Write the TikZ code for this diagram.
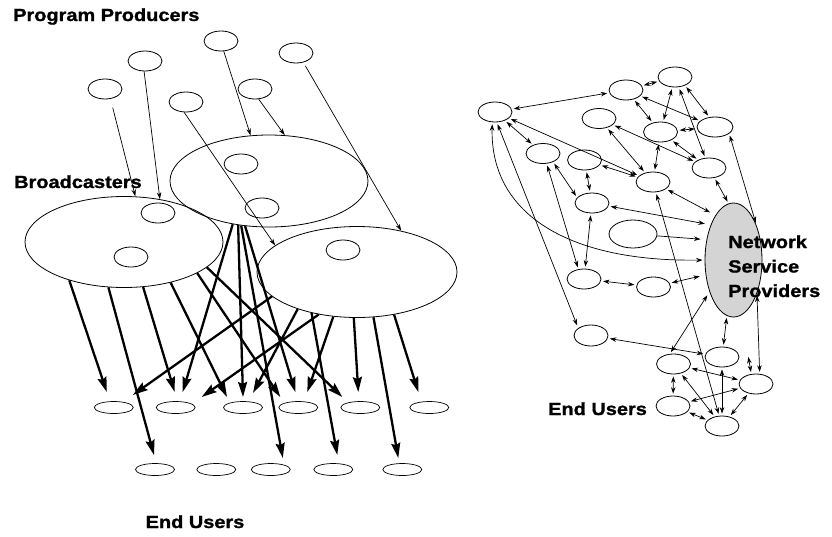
\documentclass[tikz,border=0pt]{standalone}
\usepackage{fontspec}
\newfontfamily\labfont[FakeStretch=1.14,FakeBold=1.2]{Liberation Sans}
\usetikzlibrary{shapes.geometric,arrows.meta,calc}
\begin{document}
\begin{tikzpicture}[x=1pt,y=-1pt,
  lab/.style={font=\labfont\bfseries\fontsize{17.5}{20}\selectfont, inner sep=0pt},
  sm/.style={draw, ellipse, line width=0.8pt, minimum width=34pt, minimum height=20pt, inner sep=0pt},
  bigell/.style={draw, ellipse, line width=0.8pt, minimum width=198pt, minimum height=91pt, inner sep=0pt},
  eu/.style={draw, ellipse, line width=0.7pt, minimum width=39pt, minimum height=12pt, inner sep=0pt},
  parr/.style={line width=0.7pt, -{Stealth[length=7pt,width=4.5pt]}},
  fat/.style={line width=2.3pt, -{Stealth[length=15pt,width=9pt,inset=2pt]}},
  link/.style={line width=0.7pt, {Stealth[length=6.5pt,width=4.5pt]}-{Stealth[length=6.5pt,width=4.5pt]}, shorten <=2pt, shorten >=2pt},
  one/.style={line width=0.7pt, -{Stealth[length=6.5pt,width=4.5pt]}, shorten >=2pt},
]
\fill[white] (0,0) rectangle (832,536);
\useasboundingbox (0,0) rectangle (832,536);

% ---------------- left diagram ----------------
\node[lab, anchor=base west] (tpp) at (13,21) {Program Producers};
\node[lab, anchor=base west] (tbc) at (14,188) {Broadcasters};
\node[lab, anchor=base] (teu1) at (195,528) {End Users};

\node[sm] (P1) at (221,41) {};
\node[sm] (P2) at (145,61) {};
\node[sm] (P3) at (296,53) {};
\node[sm] (P4) at (105,89) {};
\node[sm] (P5) at (186,102) {};
\node[sm] (P6) at (255,89) {};

\node[bigell, minimum height=92pt] (B1) at (269,181) {};
\node[bigell] (B2) at (124,242) {};
\node[bigell, minimum width=200pt] (B3) at (357,272) {};

\node[sm] (I1) at (241,164) {};
\node[sm] (I2) at (262,208) {};
\node[sm] (I3) at (158,213) {};
\node[sm] (I4) at (131,257) {};
\node[sm] (I5) at (343,250) {};

\foreach \n/\x in {U1/113.8,U2/175.7,U3/243,U4/298.3,U5/360.3,U6/429.3}
  \node[eu] (\n) at (\x,407.5) {};
\foreach \n/\x in {V1/155,V2/216.3,V3/270.8,V4/333.3,V5/402.3}
  \node[eu] (\n) at (\x,469.5) {};

% producers to broadcasters
\draw[parr, shorten <=9pt] (P4.299) -- (B2.76);
\draw[parr] (P2.265) -- (B2.50);
\draw[parr] (P1.285) -- (B1.112);
\draw[parr] (P6.290) -- (B1.71);
\draw[parr] (P5.260) -- (B3.162);
\draw[parr, shorten <=4pt] (P3.308) -- (B3.43);

% broadcasters to end users
\draw[fat] (B2.215) -- ($(U1)+(-7,-15.5)$);
\draw[fat] (B2.251) -- ($(V1)+(-1,-14.5)$);
\draw[fat] (B2.293) -- ($(U2)+(-1,-15.5)$);
\draw[fat] (B2.319) -- ($(U3)+(-16,-10.5)$);
\draw[fat] (B2.337) -- ($(U4)+(-18,-10.5)$);
\draw[fat] (B2.343) -- ($(U5)+(-18,-10.5)$);
\draw[fat] (B1.230) -- ($(U2)+(7,-15.5)$);
\draw[fat] (B1.235) -- ($(U3)+(0,-10.5)$);
\draw[fat] (B1.238) -- ($(V3)+(12,-11.5)$);
\draw[fat] (B1.242) -- ($(U4)+(-3,-15.5)$);
\draw[fat] (B3.196) -- ($(U1)+(19,-12.5)$);
\draw[fat] (B3.212) -- ($(U3)+(10,-14.5)$);
\draw[fat] (B3.222) -- ($(V4)+(4,-14.5)$);
\draw[fat] (B3.228) -- ($(U2)+(26,-10.5)$);
\draw[fat] (B3.242) -- ($(U4)+(9,-15.5)$);
\draw[fat] (B3.266) -- ($(U5)+(-2,-15.5)$);
\draw[fat] (B3.290) -- ($(V5)+(-4,-11.5)$);
\draw[fat] (B3.311) -- ($(U6)+(-11,-15.5)$);

% ---------------- right diagram ----------------
\node[draw, ellipse, line width=0.8pt, fill=black!17, minimum width=57pt, minimum height=114pt, inner sep=0pt] (NSP) at (733.5,260) {};
\node[lab, anchor=base west] (nsp1) at (728,248) {Network};
\node[lab, anchor=base west] (nsp2) at (728,272.5) {Service};
\node[lab, anchor=base west] (nsp3) at (728,297) {Providers};
\node[lab, anchor=base west] (teu2) at (548,415) {End Users};

\node[sm] (R1) at (495,112) {};
\node[sm] (R2) at (626,90) {};
\node[sm] (R3) at (675,77) {};
\node[sm] (R4) at (599,118.5) {};
\node[sm] (R5) at (660.5,132) {};
\node[sm, minimum width=36pt] (R6) at (715,127) {};
\node[sm] (R7) at (543,153.5) {};
\node[sm] (R8) at (584.5,160) {};
\node[sm] (R9) at (709,168) {};
\node[sm] (R10) at (653,182) {};
\node[sm] (R11) at (592,203) {};
\node[sm, minimum width=48pt, minimum height=28pt] (R12) at (633,234) {};
\node[sm] (R13) at (584,279) {};
\node[sm] (R14) at (653.5,287) {};
\node[sm, minimum height=21pt] (R15) at (591,335.5) {};
\node[sm] (R16) at (673.5,364) {};
\node[sm] (R17) at (722,357) {};
\node[sm] (R18) at (756,384) {};
\node[sm] (R19) at (673,406) {};
\node[sm] (R20) at (722,426) {};
\coordinate (f1) at (748,355);

\draw[link] (R1) -- (R2);
\draw[link] (R2) -- (R3);
\draw[link] (R1) -- (R7);
\draw[link] (R1) -- (R10);
\draw[link] (R2) -- (R5);
\draw[link] (R3) -- (R5);
\draw[link] (R2) -- (R6);
\draw[link] (R3.-40) -- (R6.120);
\draw[link] (R3) -- (R9);
\draw[link] (R5) -- (R6);
\draw[link] (R5) -- (R9);
\draw[link] (R5) -- (R10);
\draw[link] (R4) -- (R9);
\draw[link] (R4) -- (R10);
\draw[link] (R7.290) -- (R13.120);
\draw[link] (R7.-40) -- (R11.160);
\draw[link] (R8) -- (R11);
\draw[link] (R8) -- (R10);
\draw[link, shorten >=6pt] (R10) -- (NSP.112);
\draw[link] (R9) -- (NSP.95);
\draw[link] (R6.-25) -- (NSP.57);
\draw[link, shorten >=6pt] (R11) -- (NSP.123);
\draw[one, shorten >=6pt] (R12) -- (NSP.143);
\draw[link] (R1.255) .. controls (490,215) and (570,262) .. (NSP.180);
\draw[link, shorten >=3pt] (R1.280) -- (R15.150);
\draw[link] (R11) -- (R13);
\draw[link] (R13) -- (R14);
\draw[link, shorten >=6pt] (R14) -- (NSP.208);
\draw[link] (R15) -- (R17);
\draw[link, shorten >=4pt] (R16.110) -- (NSP.233);
\draw[link] (R10) -- (R20);
\draw[link] (R17) -- (NSP);
\draw[link] (R18.70) -- (NSP.305);
\draw[link] (f1) -- (R18.115);
\draw[link] (R16) -- (R18);
\draw[link] (R16) -- (R19);
\draw[link] (R16) -- (R20);
\draw[link] (R19) -- (R18);
\draw[link] (R20) -- (R18);
\draw[link] (R19) -- (R20);
\draw[link] (R17) -- (R20);
\end{tikzpicture}
\end{document}
